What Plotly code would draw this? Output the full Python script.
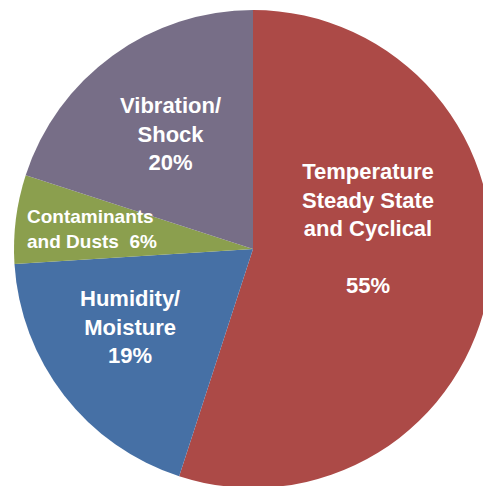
import plotly.graph_objects as go

# Share of field failures by environmental stress
categories = ["Temperature<br>Steady State<br>and Cyclical", "Humidity/<br>Moisture",
              "Contaminants<br>and Dusts", "Vibration/<br>Shock"]
shares = [55, 19, 6, 20]
colors = ["#AC4A47", "#4670A5", "#8B9F4E", "#776E87"]

W, H = 520, 500
CX, CY, R = 253, 249, 239  # pie centre and radius in pixels

fig = go.Figure(go.Pie(
    labels=categories,
    values=shares,
    sort=False,
    direction="clockwise",
    rotation=0,
    marker=dict(colors=colors, line=dict(width=0)),
    textinfo="none",
    hoverinfo="label+percent",
    showlegend=False,
    domain=dict(x=[(CX - R) / W, (CX + R) / W], y=[1 - (CY + R) / H, 1 - (CY - R) / H]),
))

# label text for each slice, built from the category names and shares
texts = [
    f"{categories[0]}<br><br>{shares[0]}%",
    f"{categories[1]}<br>{shares[1]}%",
    f"Contaminants<br>and Dusts  {shares[2]}%",
    f"{categories[3]}<br>{shares[3]}%",
]
# (x, y, font size, text align, x anchor)
label_pos = [(368, 229, 22, "center", "center"), (130, 327, 22, "center", "center"),
             (25, 229, 19, "left", "left"), (170, 134, 22, "center", "center")]

for t, (px, py, size, al, xa) in zip(texts, label_pos):
    fig.add_annotation(
        x=px / W, y=1 - py / H, xref="paper", yref="paper",
        text=t, showarrow=False, align=al,
        xanchor=xa, yanchor="middle",
        font=dict(family="Liberation Sans, Arial, sans-serif", size=size,
                  color="white", weight="bold"),
    )

fig.update_layout(
    width=W, height=H, autosize=False,
    margin=dict(l=0, r=0, t=0, b=0),
    paper_bgcolor="white", plot_bgcolor="white",
)

fig.write_html("out.html", post_script="document.body.style.margin='0';document.body.style.overflow='hidden';")
